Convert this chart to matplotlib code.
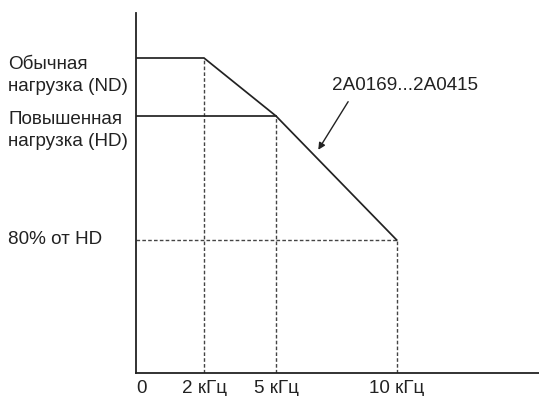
import numpy as np
import matplotlib
matplotlib.use("Agg")
import matplotlib.pyplot as plt

plt.rcParams['font.family'] = ['Liberation Sans', 'DejaVu Sans']

# ---- data (schematic derating curve) ----
freq_ticks = [0, 2, 5, 10]
freq_labels = ["0", "2 кГц", "5 кГц", "10 кГц"]
level_nd = 115      # normal duty (ND)
level_hd = 100      # heavy duty (HD)
level_80 = 80       # 80% of HD
curve_freq = [0, 2, 5, 10]
curve_level = [level_nd, level_nd, level_hd, level_80]
hd_freq = [0, 5]
hd_level = [level_hd, level_hd]
model_label = "2A0169...2A0415"
label_nd = "Обычная\nнагрузка (ND)"
label_hd = "Повышенная\nнагрузка (HD)"
label_80 = "80% от HD"
arrow_freq = 6.6

# ---- schematic (non-linear) scales ----
xs_d = np.array([0, 2, 5, 10, 15.0])
xs_p = np.array([0, 67.7, 139.7, 260.4, 402.7])
ys_d = np.array([0, 80, 100, 115, 130.0])
ys_p = np.array([0, 132.7, 256.7, 314.7, 360.0])

def fx(v): return np.interp(v, xs_d, xs_p)
def fxi(v): return np.interp(v, xs_p, xs_d)
def fy(v): return np.interp(v, ys_d, ys_p)
def fyi(v): return np.interp(v, ys_p, ys_d)

W, H = 539, 396
fig = plt.figure(figsize=(W / 100, H / 100), dpi=100)
ax = fig.add_axes([136.3 / W, (H - 372.7) / H, (W - 136.3) / W, (372.7 - 12.7) / H])
ax.set_xscale('function', functions=(fx, fxi))
ax.set_yscale('function', functions=(fy, fyi))
ax.set_xlim(0, 15)
ax.set_ylim(0, 130)

line_c = '#222222'
dash_c = '#444444'
dash = (0, (2.6, 1.6))

ax.plot(curve_freq, curve_level, color=line_c, lw=1.25, solid_joinstyle='miter', zorder=3)
ax.plot(hd_freq, hd_level, color=line_c, lw=1.25, zorder=3)

# dashed guides
ax.plot([curve_freq[1]] * 2, [0, level_nd], color=dash_c, lw=1.0, linestyle=dash)
ax.plot([curve_freq[2]] * 2, [0, level_hd], color=dash_c, lw=1.0, linestyle=dash)
ax.plot([curve_freq[3]] * 2, [0, level_80], color=dash_c, lw=1.0, linestyle=dash)
ax.plot([0, curve_freq[3]], [level_80] * 2, color=dash_c, lw=1.0, linestyle=dash)

for s in ['top', 'right']:
    ax.spines[s].set_visible(False)
for s in ['left', 'bottom']:
    ax.spines[s].set_color('#222222')
    ax.spines[s].set_linewidth(1.3)

fs = 13.6
ax.set_xticks(freq_ticks)
ax.set_xticklabels(freq_labels)
ax.tick_params(axis='x', length=0, pad=5, labelsize=fs, colors='#222222')
ax.set_yticks([])
lbl = ax.get_xticklabels()
lbl[0].set_horizontalalignment('left')

ax.annotate(label_nd, xy=(0, level_nd), xycoords=('axes fraction', 'data'),
            xytext=(-128, 2), textcoords='offset pixels', ha='left', va='top',
            fontsize=fs, color='#222222', linespacing=1.4)
ax.annotate(label_hd, xy=(0, level_hd), xycoords=('axes fraction', 'data'),
            xytext=(-128, 5), textcoords='offset pixels', ha='left', va='top',
            fontsize=fs, color='#222222', linespacing=1.4)
ax.annotate(label_80, xy=(0, level_80), xycoords=('axes fraction', 'data'),
            xytext=(-128, 0), textcoords='offset pixels', ha='left', va='center',
            fontsize=fs, color='#222222')

arrow_level = np.interp(arrow_freq, curve_freq, curve_level)
ax.annotate(model_label, xy=(arrow_freq, arrow_level), xycoords='data',
            xytext=(90, 70), textcoords='offset pixels', ha='center', va='center',
            fontsize=fs, color='#222222',
            arrowprops=dict(arrowstyle='-|>', color='#222222', lw=1.0,
                            relpos=(0.145, 0), shrinkA=4, shrinkB=5,
                            mutation_scale=10))

fig.savefig('out.png', dpi=100)
